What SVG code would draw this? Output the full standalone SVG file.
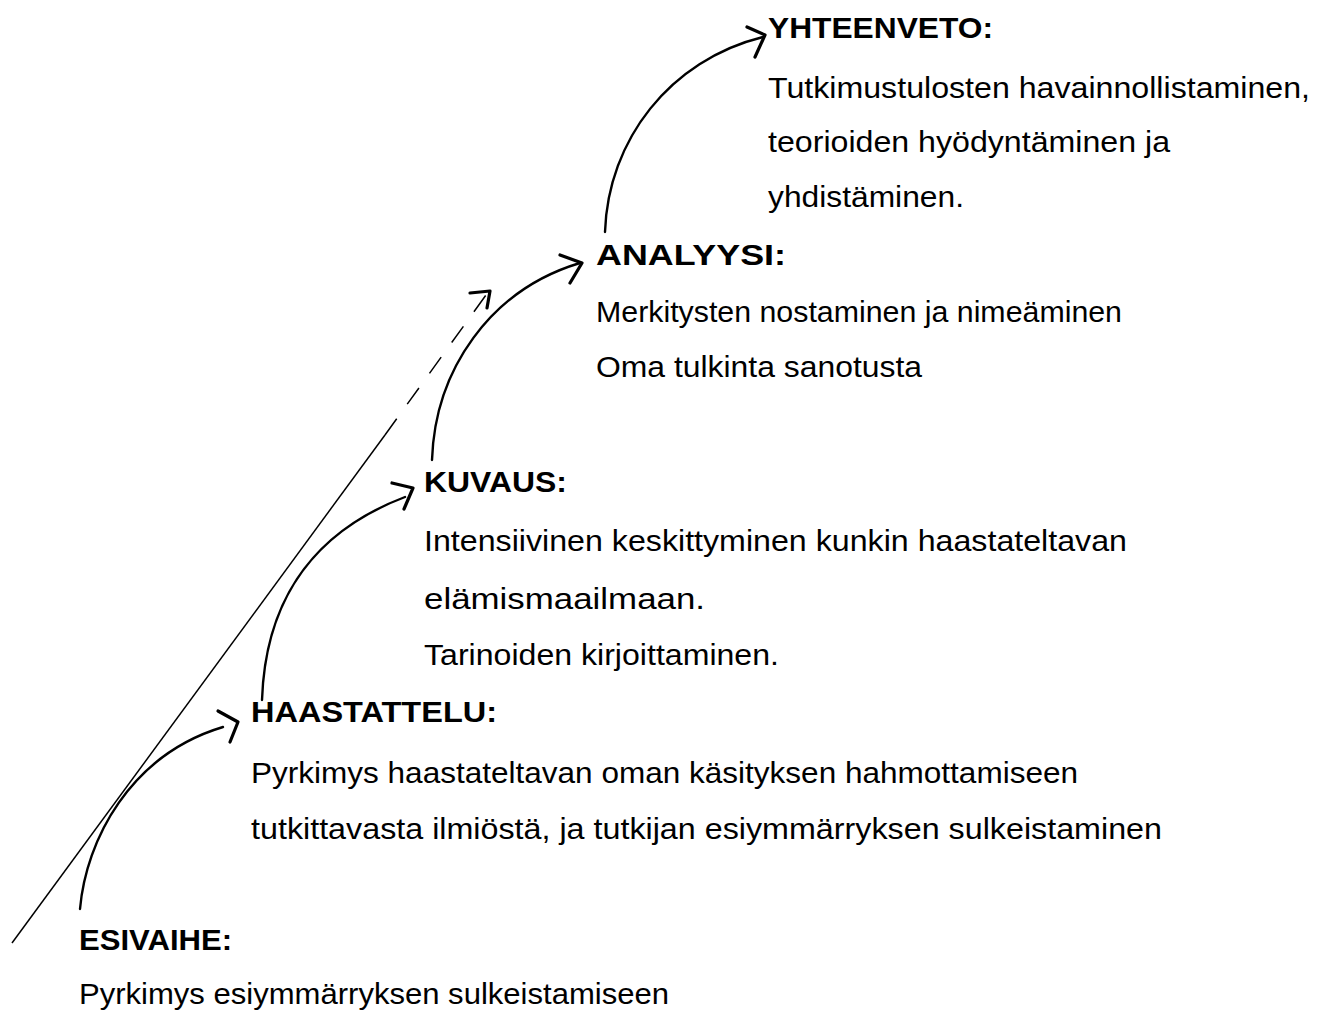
<svg xmlns="http://www.w3.org/2000/svg" width="1329" height="1014" viewBox="0 0 1329 1014">
<style>
.h{font-family:"Liberation Sans",Arial,sans-serif;font-weight:bold;font-size:30px;fill:#000}
.t{font-family:"Liberation Sans",Arial,sans-serif;font-size:30px;fill:#000}
.c{fill:none;stroke:#000;stroke-width:2.4;stroke-linecap:round}
.a{fill:none;stroke:#000;stroke-width:3.2;stroke-linecap:round;stroke-linejoin:round}
.d{fill:none;stroke:#000;stroke-width:1.5}
</style>
<rect width="1329" height="1014" fill="#fff"/>
<g id="connectors">
<path class="d" d="M12,943 L385,435"/>
<path class="d" d="M385,435 L486,295" stroke-dasharray="20 18"/>
<path class="a" d="M470,293 L490,291 L487,308"/>
<path class="c" d="M80,909 C86,840 130,755 223,727"/>
<path class="a" d="M218,711 L238,722 L230,742"/>
<path class="c" d="M262,700 C265,610 305,535 405,497"/>
<path class="a" d="M392,483 L413,488 L404,509"/>
<path class="c" d="M432,460 C435,370 490,290 580,263"/>
<path class="a" d="M560,255 L582,263 L570,283"/>
<path class="c" d="M605,232 C608,140 670,60 763,37"/>
<path class="a" d="M747,27 L765,35 L755,57"/>
</g>
<g id="yhteenveto">
<text class="h" x="768" y="38" textLength="225" lengthAdjust="spacingAndGlyphs">YHTEENVETO:</text>
<text class="t" x="768" y="98" textLength="542" lengthAdjust="spacingAndGlyphs">Tutkimustulosten havainnollistaminen,</text>
<text class="t" x="768" y="152" textLength="402" lengthAdjust="spacingAndGlyphs">teorioiden hyödyntäminen ja</text>
<text class="t" x="768" y="207" textLength="196" lengthAdjust="spacingAndGlyphs">yhdistäminen.</text>
</g>
<g id="analyysi">
<text class="h" x="596" y="265" textLength="190" lengthAdjust="spacingAndGlyphs">ANALYYSI:</text>
<text class="t" x="596" y="322" textLength="526" lengthAdjust="spacingAndGlyphs">Merkitysten nostaminen ja nimeäminen</text>
<text class="t" x="596" y="377" textLength="326" lengthAdjust="spacingAndGlyphs">Oma tulkinta sanotusta</text>
</g>
<g id="kuvaus">
<text class="h" x="424" y="492" textLength="143" lengthAdjust="spacingAndGlyphs">KUVAUS:</text>
<text class="t" x="424" y="551" textLength="703" lengthAdjust="spacingAndGlyphs">Intensiivinen keskittyminen kunkin haastateltavan</text>
<text class="t" x="424" y="609" textLength="281" lengthAdjust="spacingAndGlyphs">elämismaailmaan.</text>
<text class="t" x="424" y="665" textLength="355" lengthAdjust="spacingAndGlyphs">Tarinoiden kirjoittaminen.</text>
</g>
<g id="haastattelu">
<text class="h" x="251" y="722" textLength="246" lengthAdjust="spacingAndGlyphs">HAASTATTELU:</text>
<text class="t" x="251" y="783" textLength="827" lengthAdjust="spacingAndGlyphs">Pyrkimys haastateltavan oman käsityksen hahmottamiseen</text>
<text class="t" x="251" y="839" textLength="911" lengthAdjust="spacingAndGlyphs">tutkittavasta ilmiöstä, ja tutkijan esiymmärryksen sulkeistaminen</text>
</g>
<g id="esivaihe">
<text class="h" x="79" y="950" textLength="153" lengthAdjust="spacingAndGlyphs">ESIVAIHE:</text>
<text class="t" x="79" y="1004" textLength="590" lengthAdjust="spacingAndGlyphs">Pyrkimys esiymmärryksen sulkeistamiseen</text>
</g>
</svg>
